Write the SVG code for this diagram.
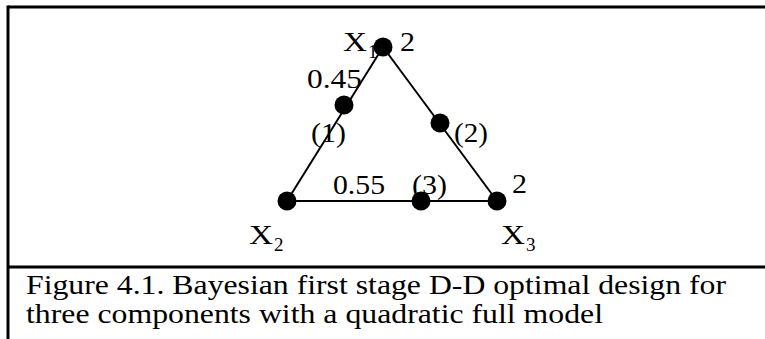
<svg xmlns="http://www.w3.org/2000/svg" width="765" height="339" viewBox="0 0 765 339">
<rect width="765" height="339" fill="#fff"/>
<g id="frame" stroke="#000" stroke-width="3" fill="none">
<line x1="8" y1="7" x2="765" y2="7"/>
<line x1="8" y1="5.5" x2="8" y2="339"/>
<line x1="8" y1="267" x2="765" y2="267"/>
</g>
<g id="connectors" stroke="#000" stroke-width="2" fill="none">
<line x1="383" y1="47" x2="287" y2="201"/>
<line x1="383" y1="47" x2="497" y2="201"/>
<line x1="287" y1="201" x2="497" y2="201"/>
</g>
<g id="X1"><text font-family="Liberation Serif" font-size="28" x="343" y="51" textLength="24" lengthAdjust="spacingAndGlyphs">X</text><text font-family="Liberation Serif" font-size="19" x="368" y="58">1</text><circle cx="383" cy="47" r="9.5"/><text font-family="Liberation Serif" font-size="28" x="400" y="51" textLength="15" lengthAdjust="spacingAndGlyphs">2</text></g>
<g id="X2"><circle cx="287" cy="201" r="9.5"/><text font-family="Liberation Serif" font-size="28" x="249" y="244" textLength="24" lengthAdjust="spacingAndGlyphs">X</text><text font-family="Liberation Serif" font-size="19" x="274" y="251">2</text></g>
<g id="X3"><circle cx="497" cy="201" r="9.5"/><text font-family="Liberation Serif" font-size="28" x="501" y="244" textLength="24" lengthAdjust="spacingAndGlyphs">X</text><text font-family="Liberation Serif" font-size="19" x="526" y="251">3</text><text font-family="Liberation Serif" font-size="28" x="512" y="193" textLength="15" lengthAdjust="spacingAndGlyphs">2</text></g>
<g id="p1"><circle cx="344" cy="105" r="9.5"/><text font-family="Liberation Serif" font-size="28" x="307" y="88" textLength="55" lengthAdjust="spacingAndGlyphs">0.45</text><text font-family="Liberation Serif" font-size="28" x="311" y="142" textLength="35" lengthAdjust="spacingAndGlyphs">(1)</text></g>
<g id="p2"><circle cx="440" cy="123" r="9.5"/><text font-family="Liberation Serif" font-size="28" x="454" y="142" textLength="34" lengthAdjust="spacingAndGlyphs">(2)</text></g>
<g id="p3"><circle cx="421" cy="201" r="9.5"/><text font-family="Liberation Serif" font-size="28" x="333" y="194" textLength="52" lengthAdjust="spacingAndGlyphs">0.55</text><text font-family="Liberation Serif" font-size="28" x="412" y="194" textLength="35" lengthAdjust="spacingAndGlyphs">(3)</text></g>
<g id="caption">
<text font-family="Liberation Serif" font-size="27" x="26" y="294" textLength="700" lengthAdjust="spacingAndGlyphs">Figure 4.1. Bayesian first stage D-D optimal design for</text>
<text font-family="Liberation Serif" font-size="27" x="26" y="323" textLength="577" lengthAdjust="spacingAndGlyphs">three components with a quadratic full model</text>
</g>
</svg>
